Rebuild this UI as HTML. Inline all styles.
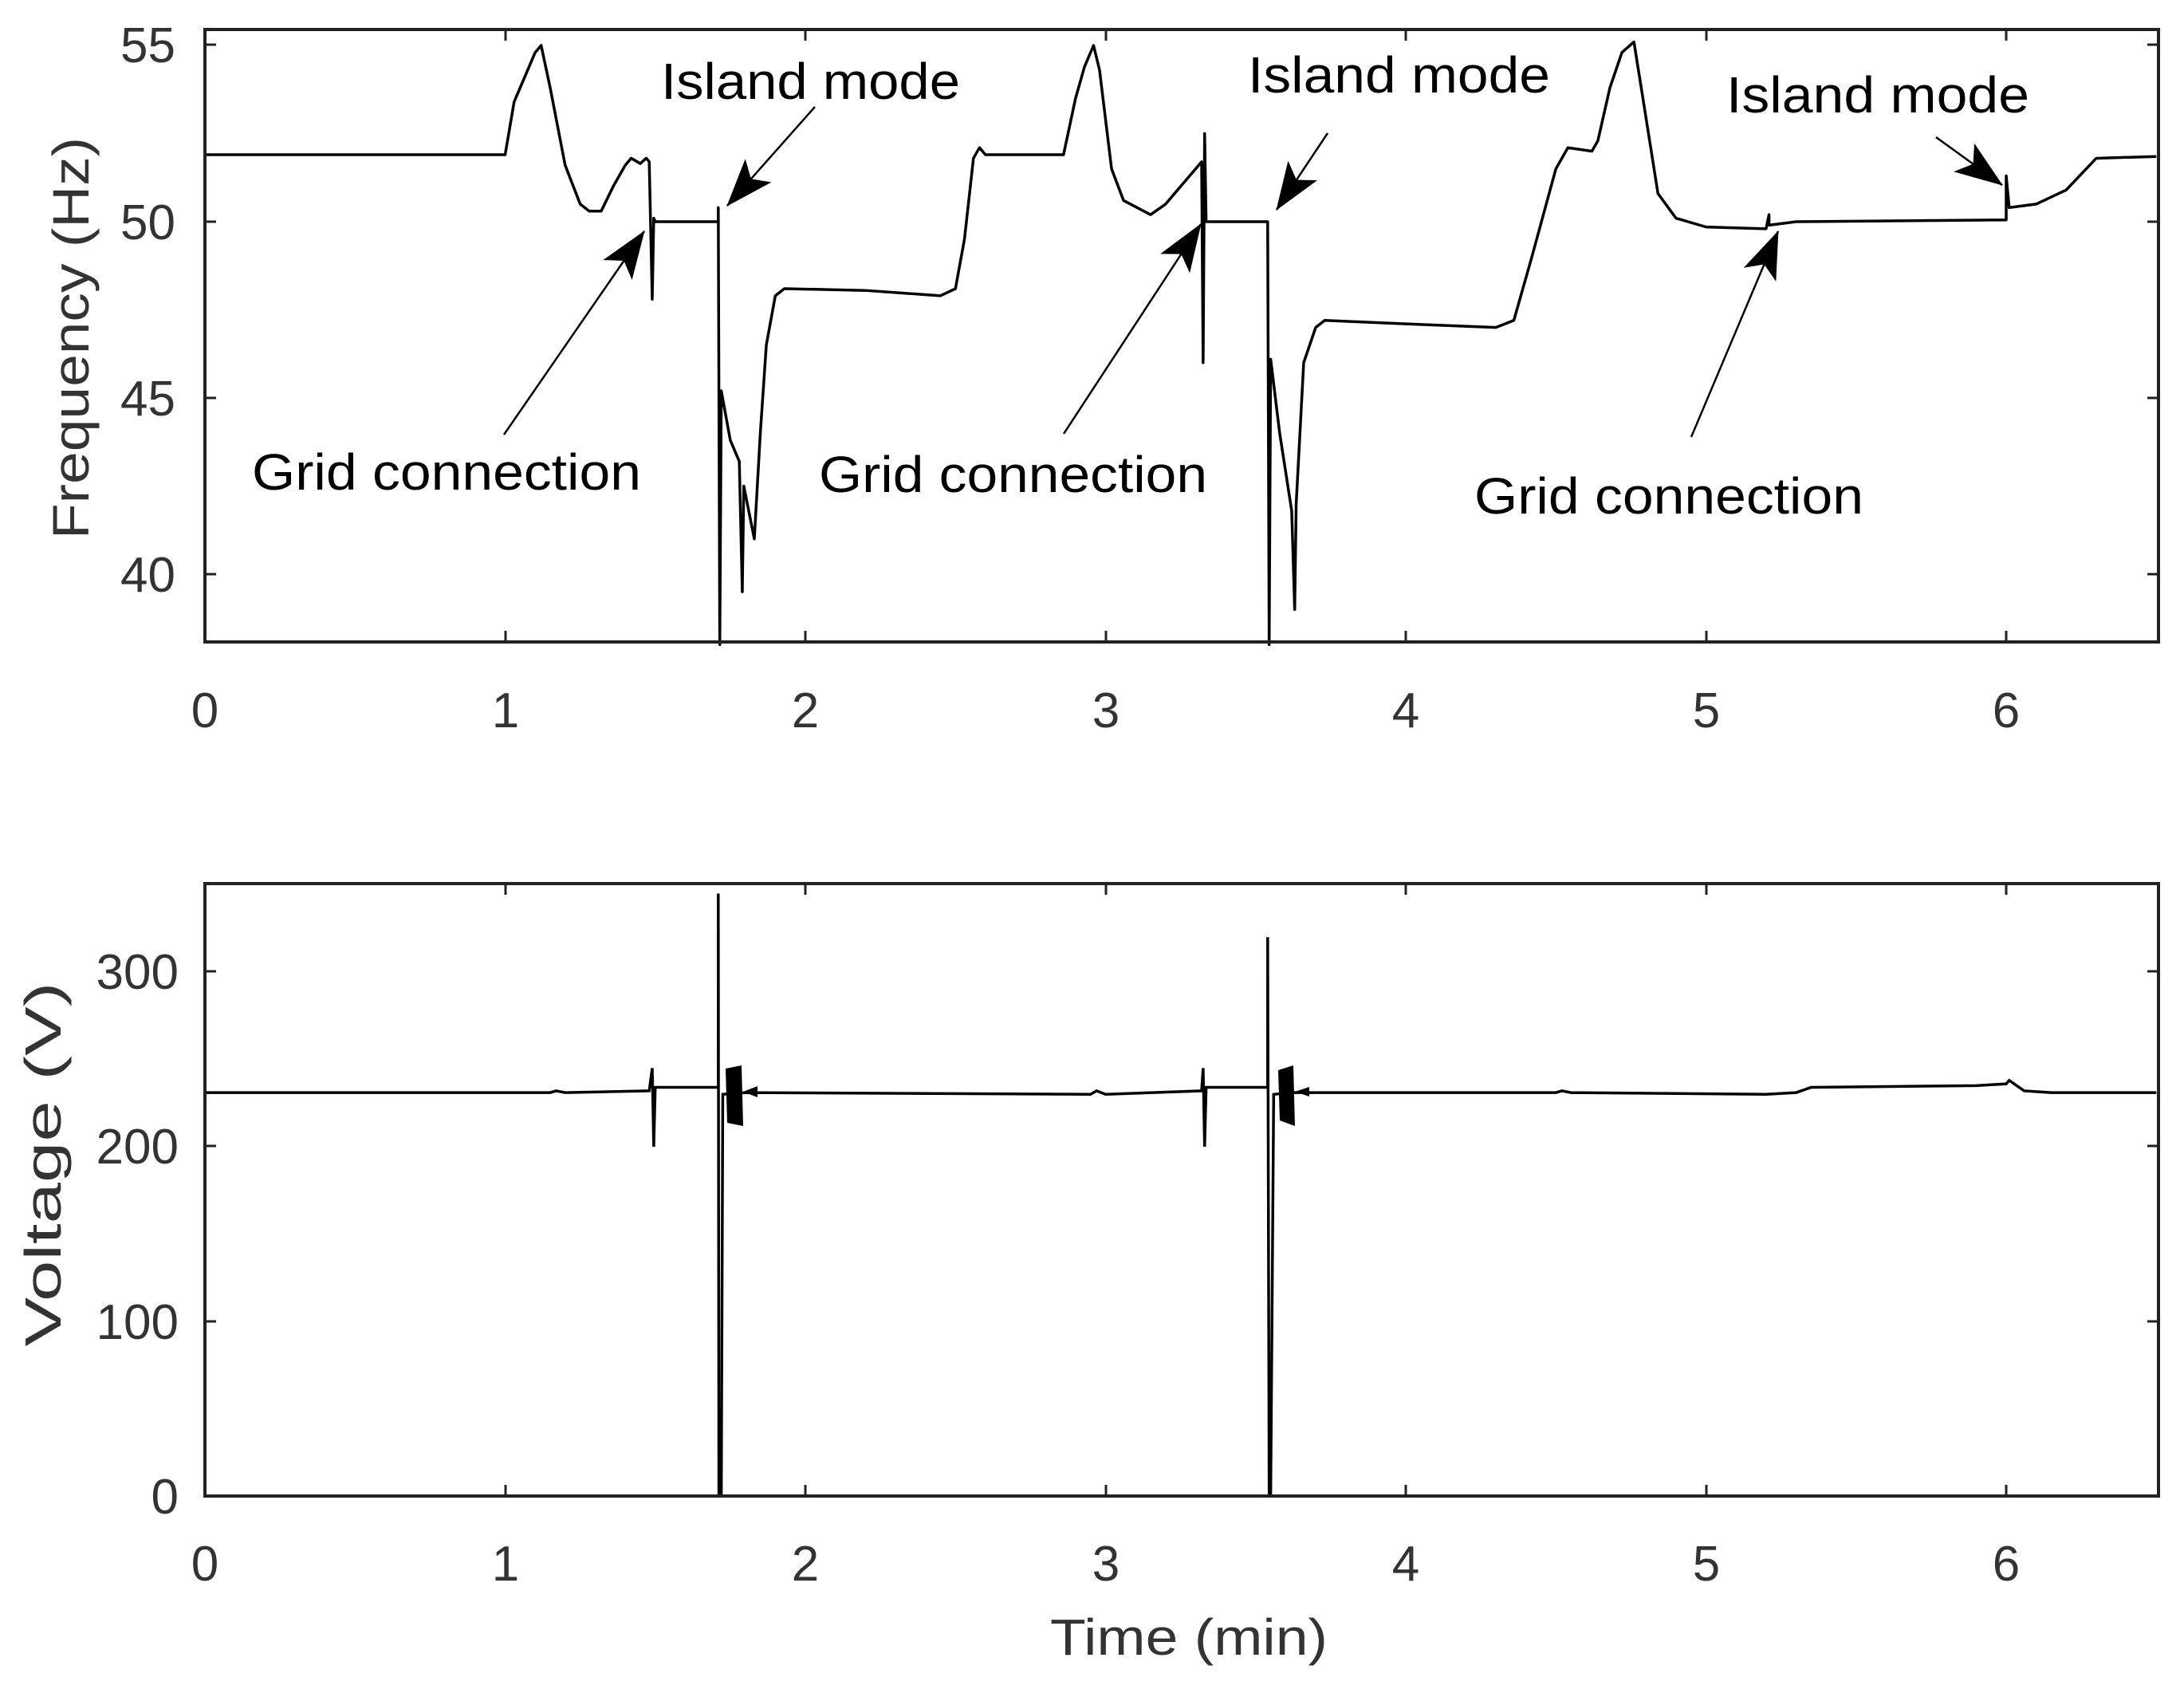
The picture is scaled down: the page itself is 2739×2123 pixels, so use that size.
<!DOCTYPE html>
<html><head><meta charset="utf-8"><style>
html,body{margin:0;padding:0;background:#fff}
svg{display:block}
text{font-family:"Liberation Sans",sans-serif}
</style></head><body>
<svg width="2739" height="2123" viewBox="0 0 2739 2123" xmlns="http://www.w3.org/2000/svg">
<defs>
<marker id="ah2" viewBox="0 0 60 44" refX="59" refY="22" markerWidth="60" markerHeight="44" markerUnits="userSpaceOnUse" orient="auto">
<path d="M0,0 L60,22 L0,44 L14,22 Z" fill="#000"/>
</marker>
</defs>

<!-- Top axes -->
<g fill="none" stroke="#000">
<g transform="translate(257,278) scale(376.5,-44.2)">
<polyline vector-effect="non-scaling-stroke" stroke-width="3.5" stroke-linejoin="round" points="0,1.9 1.0,1.9 1.03,3.4 1.06,4.0 1.1,4.8 1.12,5.0 1.15,3.8 1.2,1.6 1.25,0.5 1.28,0.3 1.32,0.3 1.36,1.0 1.4,1.6 1.42,1.8 1.45,1.65 1.47,1.8 1.48,1.7 1.49,-2.2 1.495,0.1 1.5,0 1.71,0 1.71,0.4 1.715,-12 1.72,-4.8 1.75,-6.2 1.78,-6.8 1.79,-10.5 1.795,-7.5 1.83,-9.0 1.85,-6 1.87,-3.5 1.9,-2.1 1.93,-1.9 2.2,-1.95 2.45,-2.1 2.5,-1.9 2.53,-0.5 2.56,1.8 2.58,2.1 2.6,1.9 2.86,1.9 2.9,3.5 2.93,4.4 2.96,5.0 2.98,4.3 3.02,1.5 3.06,0.6 3.15,0.2 3.2,0.5 3.25,1.0 3.3,1.5 3.32,1.7 3.325,-4 3.33,2.5 3.335,0 3.54,0 3.545,-12 3.55,-3.9 3.58,-6 3.62,-8.2 3.63,-11 3.635,-8 3.66,-4 3.7,-3 3.73,-2.8 4.0,-2.9 4.3,-3.0 4.36,-2.8 4.42,-1 4.5,1.5 4.54,2.1 4.62,2.0 4.64,2.3 4.68,3.8 4.72,4.8 4.76,5.1 4.79,3.5 4.84,0.8 4.9,0.1 5.0,-0.15 5.2,-0.2 5.21,0.2 5.21,-0.1 5.3,0 6.0,0.05 6.0,1.3 6.01,0.4 6.1,0.5 6.2,0.9 6.3,1.8 6.5,1.85"/>
</g>
<rect x="257" y="37" width="2450" height="768" stroke="#222" stroke-width="4"/>
<g stroke="#222" stroke-width="3">
<path d="M634,805v-14M1010,805v-14M1387,805v-14M1763,805v-14M2140,805v-14M2516,805v-14"/>
<path d="M634,37v14M1010,37v14M1387,37v14M1763,37v14M2140,37v14M2516,37v14"/>
<path d="M257,56h14M257,278h14M257,499h14M257,720h14"/>
<path d="M2707,56h-14M2707,278h-14M2707,499h-14M2707,720h-14"/>
</g>
<g stroke="#000" stroke-width="2.5">
<line x1="1022" y1="134" x2="912" y2="258" marker-end="url(#ah2)"/>
<line x1="632" y1="545" x2="808" y2="290" marker-end="url(#ah2)"/>
<line x1="1665" y1="167" x2="1601" y2="263" marker-end="url(#ah2)"/>
<line x1="1334" y1="544" x2="1506" y2="281" marker-end="url(#ah2)"/>
<line x1="2428" y1="172" x2="2511" y2="232" marker-end="url(#ah2)"/>
<line x1="2121" y1="548" x2="2230" y2="290" marker-end="url(#ah2)"/>
</g>
</g>
<g fill="#000" font-size="64">
<text x="829" y="124" textLength="375" lengthAdjust="spacingAndGlyphs">Island mode</text>
<text x="1565" y="116" textLength="379" lengthAdjust="spacingAndGlyphs">Island mode</text>
<text x="2165" y="141" textLength="380" lengthAdjust="spacingAndGlyphs">Island mode</text>
<text x="316" y="614" textLength="488" lengthAdjust="spacingAndGlyphs">Grid connection</text>
<text x="1027" y="617" textLength="487" lengthAdjust="spacingAndGlyphs">Grid connection</text>
<text x="1849" y="644" textLength="488" lengthAdjust="spacingAndGlyphs">Grid connection</text>
</g>
<g fill="#333" font-size="62">
<g text-anchor="end">
<text x="220" y="78">55</text><text x="220" y="300">50</text><text x="220" y="521">45</text><text x="220" y="742">40</text>
</g>
<g text-anchor="middle">
<text x="257" y="912">0</text><text x="634" y="912">1</text><text x="1010" y="912">2</text><text x="1387" y="912">3</text><text x="1763" y="912">4</text><text x="2140" y="912">5</text><text x="2516" y="912">6</text>
</g>
<text transform="translate(111,424) rotate(-90)" text-anchor="middle" font-size="64" textLength="504" lengthAdjust="spacingAndGlyphs">Frequency (Hz)</text>
</g>

<!-- Bottom axes -->
<g fill="none">
<g transform="translate(257,1876) scale(376.5,-2.19)" stroke="#000">
<polyline vector-effect="non-scaling-stroke" stroke-width="3.5" points="0,231 1.15,231 1.17,232 1.2,231 1.48,232 1.49,245 1.495,200 1.5,234 1.71,234 1.71,345 1.712,0 1.72,0 1.725,230 1.8,231 2.95,230 2.97,232 3.0,230 3.32,232 3.325,245 3.33,200 3.335,234 3.54,234 3.54,320 3.545,0 3.55,0 3.56,230 3.62,231 4.5,231 4.52,232 4.55,231 5.2,230 5.3,231 5.35,234 5.9,235 6.0,236 6.01,238 6.06,232 6.15,231 6.5,231"/>
</g>
<path d="M910,1340 L930,1336 L932,1412 L912,1408 Z" fill="#000"/>
<path d="M1603,1342 L1622,1336 L1624,1412 L1605,1405 Z" fill="#000"/>
<path d="M932,1369 L950,1362 L950,1376 Z" fill="#000"/>
<path d="M1624,1369 L1642,1363 L1642,1375 Z" fill="#000"/>
<rect x="257" y="1108" width="2450" height="768" stroke="#222" stroke-width="4"/>
<g stroke="#222" stroke-width="3">
<path d="M634,1876v-14M1010,1876v-14M1387,1876v-14M1763,1876v-14M2140,1876v-14M2516,1876v-14"/>
<path d="M634,1108v14M1010,1108v14M1387,1108v14M1763,1108v14M2140,1108v14M2516,1108v14"/>
<path d="M257,1218h14M257,1437h14M257,1657h14"/>
<path d="M2707,1218h-14M2707,1437h-14M2707,1657h-14"/>
</g>
</g>
<g fill="#333" font-size="62">
<g text-anchor="end">
<text x="224" y="1240">300</text><text x="224" y="1459">200</text><text x="224" y="1679">100</text><text x="224" y="1898">0</text>
</g>
<g text-anchor="middle">
<text x="257" y="1982">0</text><text x="634" y="1982">1</text><text x="1010" y="1982">2</text><text x="1387" y="1982">3</text><text x="1763" y="1982">4</text><text x="2140" y="1982">5</text><text x="2516" y="1982">6</text>
</g>
<text transform="translate(76,1460) rotate(-90)" text-anchor="middle" font-size="64" textLength="457" lengthAdjust="spacingAndGlyphs">Voltage (V)</text>
<text x="1491" y="2075" text-anchor="middle" font-size="64" textLength="348" lengthAdjust="spacingAndGlyphs">Time (min)</text>
</g>
</svg>
</body></html>
